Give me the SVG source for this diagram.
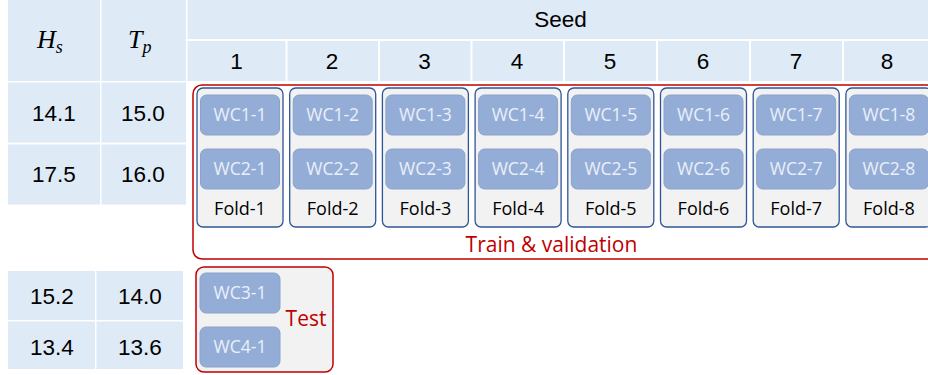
<svg xmlns="http://www.w3.org/2000/svg" width="928" height="375" viewBox="0 0 928 375">
<style>
.cell{fill:#DEEAF6}
.num{font-family:"Liberation Sans",Arial,sans-serif;font-size:22.5px;fill:#000;text-anchor:middle}
.math{font-family:"Liberation Serif","DejaVu Serif",serif;font-style:italic;fill:#000}
.fold{fill:#F2F2F2;stroke:#2F5597;stroke-width:1.3}
.wc{fill:#94ADD7;stroke:#8AA2CC;stroke-width:1}
.wct{font-family:"Open Sans","Noto Sans",sans-serif;font-size:17.5px;fill:#EAF0F9;text-anchor:middle}
.fl{font-family:"Open Sans","Noto Sans",sans-serif;font-size:18px;fill:#000;text-anchor:middle}
.red{font-family:"Open Sans","Noto Sans",sans-serif;fill:#C00000;text-anchor:middle}
.grp{fill:none;stroke:#C00000;stroke-width:1.5}
</style>
<rect width="928" height="375" fill="#FFFFFF"/>
<g id="table-top">
<rect class="cell" x="8" y="0" width="92" height="81"/>
<rect class="cell" x="101.5" y="0" width="84.5" height="81"/>
<rect class="cell" x="187.5" y="0" width="740.5" height="39"/>
<rect class="cell" x="187.5" y="41" width="98" height="40"/>
<rect class="cell" x="287.5" y="41" width="90.5" height="40"/>
<rect class="cell" x="380" y="41" width="90.5" height="40"/>
<rect class="cell" x="472.5" y="41" width="90.5" height="40"/>
<rect class="cell" x="565" y="41" width="91" height="40"/>
<rect class="cell" x="658" y="41" width="91" height="40"/>
<rect class="cell" x="751" y="41" width="91" height="40"/>
<rect class="cell" x="844" y="41" width="84" height="40"/>
<rect class="cell" x="8" y="82.5" width="92" height="60"/>
<rect class="cell" x="101.5" y="82.5" width="84.5" height="60"/>
<rect class="cell" x="8" y="144.5" width="92" height="60"/>
<rect class="cell" x="101.5" y="144.5" width="84.5" height="60"/>
<text class="math" x="37" y="48" font-size="26">H<tspan font-size="18" dy="5">s</tspan></text>
<text class="math" x="128" y="48" font-size="26">T<tspan font-size="18" dy="5">p</tspan></text>
<text class="num" x="560.5" y="27" font-size="23">Seed</text>
<text class="num" x="236.5" y="69">1</text>
<text class="num" x="332" y="69">2</text>
<text class="num" x="424.5" y="69">3</text>
<text class="num" x="517" y="69">4</text>
<text class="num" x="610" y="69">5</text>
<text class="num" x="703" y="69">6</text>
<text class="num" x="796" y="69">7</text>
<text class="num" x="887" y="69">8</text>
<text class="num" x="54" y="121">14.1</text>
<text class="num" x="143" y="121">15.0</text>
<text class="num" x="54" y="182">17.5</text>
<text class="num" x="143" y="182">16.0</text>
</g>
<g id="table-bottom">
<rect class="cell" x="8" y="271" width="87" height="49"/>
<rect class="cell" x="96.5" y="271" width="86.5" height="49"/>
<rect class="cell" x="8" y="321.5" width="87" height="47.5"/>
<rect class="cell" x="96.5" y="321.5" width="86.5" height="47.5"/>
<text class="num" x="52" y="304">15.2</text>
<text class="num" x="140" y="304">14.0</text>
<text class="num" x="52" y="355">13.4</text>
<text class="num" x="140" y="355">13.6</text>
</g>
<g id="train-validation">
<rect class="grp" x="193" y="85" width="760" height="174" rx="9"/>
<text class="red" x="551.5" y="252" font-size="21">Train &amp; validation</text>
</g>
<g id="fold-1">
<rect class="fold" x="197" y="88" width="86" height="139" rx="6"/>
<rect class="wc" x="200.5" y="95" width="79" height="40" rx="6"/><text class="wct" x="240" y="121">WC1-1</text>
<rect class="wc" x="200.5" y="149" width="79" height="40" rx="6"/><text class="wct" x="240" y="175">WC2-1</text>
<text class="fl" x="240" y="215">Fold-1</text>
</g>
<g id="fold-2">
<rect class="fold" x="289.7" y="88" width="86" height="139" rx="6"/>
<rect class="wc" x="293.2" y="95" width="79" height="40" rx="6"/><text class="wct" x="332.7" y="121">WC1-2</text>
<rect class="wc" x="293.2" y="149" width="79" height="40" rx="6"/><text class="wct" x="332.7" y="175">WC2-2</text>
<text class="fl" x="332.7" y="215">Fold-2</text>
</g>
<g id="fold-3">
<rect class="fold" x="382.4" y="88" width="86" height="139" rx="6"/>
<rect class="wc" x="385.9" y="95" width="79" height="40" rx="6"/><text class="wct" x="425.4" y="121">WC1-3</text>
<rect class="wc" x="385.9" y="149" width="79" height="40" rx="6"/><text class="wct" x="425.4" y="175">WC2-3</text>
<text class="fl" x="425.4" y="215">Fold-3</text>
</g>
<g id="fold-4">
<rect class="fold" x="475.1" y="88" width="86" height="139" rx="6"/>
<rect class="wc" x="478.6" y="95" width="79" height="40" rx="6"/><text class="wct" x="518.1" y="121">WC1-4</text>
<rect class="wc" x="478.6" y="149" width="79" height="40" rx="6"/><text class="wct" x="518.1" y="175">WC2-4</text>
<text class="fl" x="518.1" y="215">Fold-4</text>
</g>
<g id="fold-5">
<rect class="fold" x="567.8" y="88" width="86" height="139" rx="6"/>
<rect class="wc" x="571.3" y="95" width="79" height="40" rx="6"/><text class="wct" x="610.8" y="121">WC1-5</text>
<rect class="wc" x="571.3" y="149" width="79" height="40" rx="6"/><text class="wct" x="610.8" y="175">WC2-5</text>
<text class="fl" x="610.8" y="215">Fold-5</text>
</g>
<g id="fold-6">
<rect class="fold" x="660.5" y="88" width="86" height="139" rx="6"/>
<rect class="wc" x="664" y="95" width="79" height="40" rx="6"/><text class="wct" x="703.5" y="121">WC1-6</text>
<rect class="wc" x="664" y="149" width="79" height="40" rx="6"/><text class="wct" x="703.5" y="175">WC2-6</text>
<text class="fl" x="703.5" y="215">Fold-6</text>
</g>
<g id="fold-7">
<rect class="fold" x="753.2" y="88" width="86" height="139" rx="6"/>
<rect class="wc" x="756.7" y="95" width="79" height="40" rx="6"/><text class="wct" x="796.2" y="121">WC1-7</text>
<rect class="wc" x="756.7" y="149" width="79" height="40" rx="6"/><text class="wct" x="796.2" y="175">WC2-7</text>
<text class="fl" x="796.2" y="215">Fold-7</text>
</g>
<g id="fold-8">
<rect class="fold" x="845.9" y="88" width="86" height="139" rx="6"/>
<rect class="wc" x="849.4" y="95" width="79" height="40" rx="6"/><text class="wct" x="888.9" y="121">WC1-8</text>
<rect class="wc" x="849.4" y="149" width="79" height="40" rx="6"/><text class="wct" x="888.9" y="175">WC2-8</text>
<text class="fl" x="888.9" y="215">Fold-8</text>
</g>
<g id="test">
<rect x="196" y="267" width="137" height="105" rx="8" fill="#F2F2F2" stroke="#C00000" stroke-width="1.5"/>
<rect class="wc" x="200" y="273" width="80" height="40" rx="6"/><text class="wct" x="240" y="299">WC3-1</text>
<rect class="wc" x="200" y="327" width="80" height="40" rx="6"/><text class="wct" x="240" y="353">WC4-1</text>
<text class="red" x="306" y="326" font-size="21">Test</text>
</g>
</svg>
